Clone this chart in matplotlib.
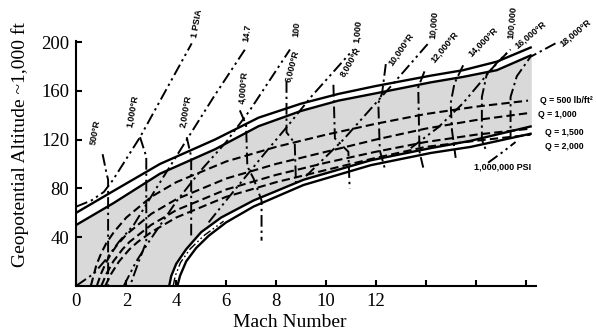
import numpy as np
import matplotlib
matplotlib.use('Agg')
import matplotlib.pyplot as plt

# --- corridor boundaries (Mach number, altitude in 1,000 ft) ---
upper_mach = [0, 1.5, 3.35, 5.55, 7.3, 9.0, 10.5, 12.0, 14.2, 15.5, 16.85, 18.25]
upper_alt = [60, 78, 100, 120, 138, 149.5, 157.5, 164, 172.5, 177, 184, 196]
upper2_alt = [50, 68, 92, 112, 131, 143.5, 152, 158, 167, 171.5, 177, 189.5]

lower_mach = [3.72, 3.8, 4.0, 4.4, 5.0, 5.8, 7.1, 9.1, 11.8, 14.2, 15.8, 18.25]
lower_alt = [0, 8, 18, 30, 44, 56, 70, 87, 103, 113, 119, 131]
lower2_mach = [4.05, 4.15, 4.4, 4.8, 5.3, 6.0, 7.1, 9.1, 11.8, 14.2, 15.8, 18.25]
lower2_alt = [0, 8, 20, 31, 41, 52, 65, 82.7, 99, 109, 114, 125]
lower_mid_mach = [3.88, 3.96, 4.17, 4.55, 5.1, 5.9]
lower_mid_alt = [0, 8, 19, 30, 41, 53]

# --- dynamic pressure lines ---
q500_mach = [0.58, 0.8, 1.0, 1.2, 1.5, 2, 3, 4, 6, 8, 10, 12, 14, 16, 18.1]
q500_alt = [0, 17, 27, 35, 44, 56, 73, 85, 102, 114, 124, 133, 141, 147, 152]
q1000_mach = [0.82, 1.0, 1.2, 1.4, 1.6, 2, 3, 4, 6, 8, 10, 12, 14, 16, 18.2]
q1000_alt = [0, 10.5, 19.5, 26.7, 32.6, 42, 59, 71, 88, 100, 110, 120, 129, 136, 142]
q1500_mach = [1.0, 1.21, 1.48, 1.85, 2.13, 3, 4, 6, 8, 10, 12, 14, 16, 18.2]
q1500_alt = [0, 10, 20, 30, 36, 50, 62, 79, 91, 101, 110, 118, 124, 129]
q2000_mach = [1.16, 1.4, 1.71, 2.13, 2.46, 3, 4, 6, 8, 10, 12, 14, 16, 18.2]
q2000_alt = [0, 10, 20, 30, 36, 44, 56, 73, 85, 95, 105, 114, 119, 124]

# --- stagnation pressure lines ---
p1_mach = [0, 0.6, 1.1, 1.47, 2.55, 4.62]
p1_alt = [65, 70, 77, 87, 122, 199]
p14_mach = [0, 0.7, 1.2, 1.7, 2.3, 3.2, 4.15, 5.5, 6.82]
p14_alt = [0, 10, 22, 36, 50, 80, 111, 155, 196]
p100_mach = [1.9, 2.4, 2.9, 4.0, 5.0, 6.0, 6.95, 8.56]
p100_alt = [0, 20, 36, 69, 95, 118, 144, 194]
p1000_mach = [5.3, 6.0, 6.8, 7.6, 8.5, 9.4, 11.1]
p1000_alt = [52, 70, 90, 110, 132, 155, 194]
p10k_mach = [9.2, 9.7, 10.7, 12.0, 12.7, 14.1]
p10k_alt = [90, 100, 120, 150, 166, 199]
p100k_mach = [13.4, 14.5, 15.5, 16.85, 17.4]
p100k_alt = [113, 130, 150, 183, 194]
p1m_mach = [16.5, 17.1, 17.6]
p1m_alt = [101, 110, 118]

# --- stagnation temperature lines ---
t500_mach = [1.05, 1.2, 1.27, 1.27]
t500_alt = [108, 93, 87, 0]
t1000_mach = [2.55, 2.8, 2.8, 2.5, 2.15]
t1000_alt = [122, 106, 36, 20, 0]
t2000_mach = [4.42, 4.6, 4.6]
t2000_alt = [122, 106, 40]
t4000_mach = [6.55, 6.8, 6.85, 7.1, 7.42, 7.42]
t4000_alt = [144, 132, 98, 88, 70, 37]
t6000_mach = [8.42, 8.42, 8.75, 8.8]
t6000_alt = [168, 126, 117, 84]
t8000_mach = [10.3, 10.36, 10.9, 10.95]
t8000_alt = [165, 121, 110, 80]
t10000_mach = [12.4, 12.25, 12.1, 12.16, 12.35]
t10000_alt = [182, 158, 150, 111, 97]
t12000_mach = [13.95, 13.7, 13.75, 13.9]
t12000_alt = [176, 163, 110, 97]
t14000_mach = [15.5, 15.15, 15.0, 15.05, 15.2]
t14000_alt = [181, 166, 150, 128, 105]
t16000_mach = [17.25, 16.45, 16.25, 16.25, 16.4]
t16000_alt = [191, 174, 155, 120, 112]
t18000_mach = [19.2, 18.2, 17.65, 17.4, 17.4]
t18000_alt = [199, 188, 172, 155, 122]

# labels: text, mach, altitude, rotation
p_labels = ['1 PSIA', '14.7', '100', '1,000', '10,000', '100,000', '1,000,000 PSI']
p_label_mach = [4.83, 6.83, 8.84, 11.28, 14.3, 17.45, 17.06]
p_label_alt = [215, 207.5, 211, 209, 214, 216, 97.5]
p_label_rot = [80, 82, 85, 85, 85, 85, 0]

t_labels = ['500°R', '1,000°R', '2,000°R', '4,000°R', '6,000°R', '8,000°R',
            '10,000°R', '12,000°R', '14,000°R', '16,000°R', '18,000°R']
t_label_mach = [0.78, 2.26, 4.39, 6.67, 8.64, 11.0, 13.0, 14.77, 16.3, 18.2, 19.98]
t_label_alt = [126, 143, 143, 163, 180, 184, 194, 196, 200, 206, 208]
t_label_rot = [80, 80, 80, 85, 75, 60, 55, 50, 45, 40, 40]

q_labels = ['Q = 500 lb/ft²', 'Q = 1,000', 'Q = 1,500', 'Q = 2,000']
q_label_mach = [18.57, 18.5, 18.78, 18.78]
q_label_alt = [152.5, 141, 126, 114.7]

x_ticks = [0, 2, 4, 6, 8, 10, 12, 14, 16, 18]
x_ticklabels = ['0', '2', '4', '6', '8', '10', '12', '', '', '']
y_ticks = [40, 80, 120, 160, 200]

serif = 'Liberation Serif'
sans = 'Liberation Sans'

fig = plt.figure(figsize=(5.97, 3.33), dpi=100)
ax = fig.add_axes([0.128, 0.142, 0.769, 0.735])
ax.set_xlim(0, 18.4)
ax.set_ylim(0, 201)

# gray corridor
x0, y0 = ax.get_xlim()[0], ax.get_ylim()[0]
fill_x = np.concatenate([[x0], upper_mach, lower_mach[::-1]])
fill_y = np.concatenate([[y0], upper2_alt, lower_alt[::-1]])
ax.fill(fill_x, fill_y, color='#d9d9d9', lw=0, zorder=1)

solid = dict(color='black', lw=1.7, solid_capstyle='butt', zorder=4)
ax.plot(upper_mach, upper_alt, **solid)
ax.plot(upper_mach, upper2_alt, **solid)
ax.plot(lower_mach, lower_alt, **solid)
ax.plot(lower2_mach, lower2_alt, **solid)

dash = (0, (4, 2))
dashdot = (0, (6, 2, 1.2, 2))
dashdotdot = (0, (6, 2, 1.2, 2, 1.2, 2))

ax.plot(lower_mid_mach, lower_mid_alt, color='black', lw=1.0, ls=dashdotdot, zorder=3)

for m, h in [(q500_mach, q500_alt), (q1000_mach, q1000_alt),
             (q1500_mach, q1500_alt), (q2000_mach, q2000_alt)]:
    ax.plot(m, h, color='black', lw=1.5, ls=dash, zorder=3)

for m, h in [(p1_mach, p1_alt), (p14_mach, p14_alt), (p100_mach, p100_alt),
             (p1000_mach, p1000_alt), (p10k_mach, p10k_alt),
             (p100k_mach, p100k_alt), (p1m_mach, p1m_alt)]:
    ax.plot(m, h, color='black', lw=1.4, ls=dashdotdot, zorder=3, clip_on=False)

for m, h in [(t500_mach, t500_alt), (t1000_mach, t1000_alt), (t2000_mach, t2000_alt),
             (t4000_mach, t4000_alt), (t6000_mach, t6000_alt), (t8000_mach, t8000_alt),
             (t10000_mach, t10000_alt), (t12000_mach, t12000_alt),
             (t14000_mach, t14000_alt), (t16000_mach, t16000_alt),
             (t18000_mach, t18000_alt)]:
    ax.plot(m, h, color='black', lw=1.4, ls=dashdot, zorder=3, clip_on=False)

for txt, m, h, r in zip(p_labels + t_labels,
                        p_label_mach + t_label_mach,
                        p_label_alt + t_label_alt,
                        p_label_rot + t_label_rot):
    ax.text(m, h, txt, rotation=r, ha='center', va='center', fontsize=6.5,
            fontweight='bold', family=sans, clip_on=False, zorder=5)

for txt, m, h in zip(q_labels, q_label_mach, q_label_alt):
    ax.text(m, h, txt, ha='left', va='center', fontsize=6.3, fontweight='bold',
            family=sans, clip_on=False, zorder=5)

# axes styling
for s in ['top', 'right']:
    ax.spines[s].set_visible(False)
for s in ['left', 'bottom']:
    ax.spines[s].set_linewidth(1.5)
ax.set_xticks(x_ticks)
ax.set_xticklabels(x_ticklabels)
ax.set_yticks(y_ticks)
ax.tick_params(direction='in', length=4, width=1.5, pad=5)
for lab in ax.get_xticklabels() + ax.get_yticklabels():
    lab.set_family(serif)
    lab.set_fontsize(13.5)

fig.text(0.0335, 0.565, 'Geopotential Altitude ~1,000 ft', rotation=90,
         ha='center', va='center', fontsize=14, family=serif)
fig.text(0.486, 0.033, 'Mach Number', ha='center', va='center',
         fontsize=14, family=serif)

fig.savefig('out.png', dpi=100)
